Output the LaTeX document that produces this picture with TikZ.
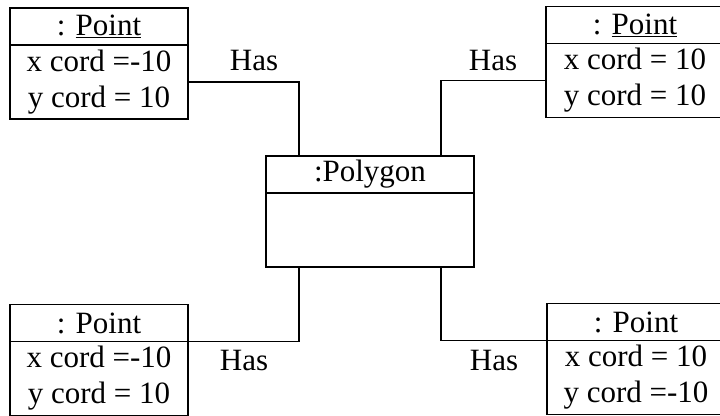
\documentclass[tikz,border=0pt]{standalone}
\usepackage{fontspec}
\setmainfont{Liberation Serif}
\begin{document}
\begin{tikzpicture}[x=1pt,y=-1pt,
  txt/.style={font=\fontsize{31}{36}\selectfont},
  head/.style={draw, line width=1.2pt, outer sep=0pt, minimum width=178pt, minimum height=37pt, inner sep=0pt, txt},
  body/.style={draw, line width=1.2pt, outer sep=0pt, minimum width=178pt, minimum height=74pt, inner sep=0pt, align=center, txt},
  conn/.style={line width=1.1pt},
  lbl/.style={inner sep=0pt, txt}]
\useasboundingbox (0,0) rectangle (720,415);
\clip (0,0) rectangle (720,415);
% top-left point
\node[head] (tlh) at (99,26.5) {: \underline{Point}};
\node[body, anchor=north] (tlb) at (tlh.south) {x cord =-10\\y cord = 10};
% top-right point
\node[head] (trh) at (635,25) {: \underline{Point}};
\node[body, anchor=north] (trb) at (trh.south) {x cord = 10\\y cord = 10};
% polygon
\node[head, minimum width=208pt] (ph) at (370,174.5) {:Polygon};
\node[body, minimum width=208pt, anchor=north] (pb) at (ph.south) {};
% bottom-left point
\node[head] (blh) at (99,323) {: Point};
\node[body, anchor=north] (blb) at (blh.south) {x cord =-10\\y cord = 10};
% bottom-right point
\node[head] (brh) at (636,322) {: Point};
\node[body, anchor=north] (brb) at (brh.south) {x cord = 10\\y cord =-10};
% attachment points on polygon
\coordinate (pa) at ([xshift=33pt]ph.north west);
\coordinate (pc) at ([xshift=-33pt]ph.north east);
\coordinate (pd) at ([xshift=33pt]pb.south west);
\coordinate (pe) at ([xshift=-33pt]pb.south east);
% connectors
\draw[conn] (tlb.east) -| (pa);
\draw[conn] (trb.west) -| (pc);
\draw[conn] (pd) |- (blh.south east);
\draw[conn] (pe) |- (brh.south west);
% labels
\node[lbl] (l1) at (254,61) {Has};
\node[lbl] (l2) at (493,61) {Has};
\node[lbl] (l3) at (244,360) {Has};
\node[lbl] (l4) at (494,360) {Has};
\end{tikzpicture}
\end{document}
